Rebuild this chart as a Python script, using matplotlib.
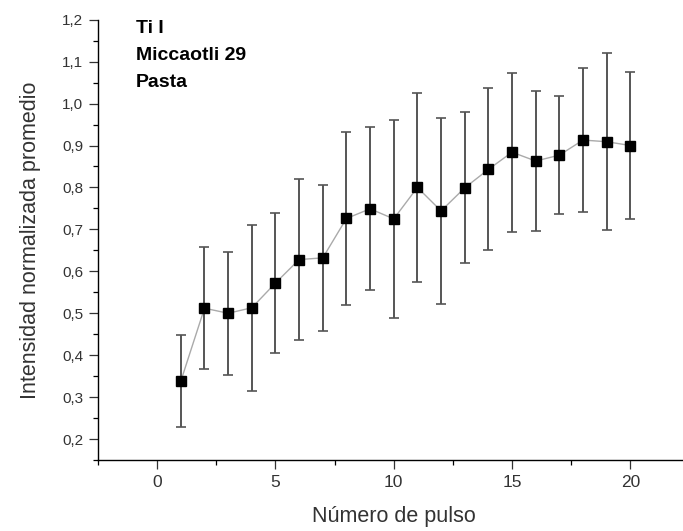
import numpy as np
import matplotlib.pyplot as plt
from matplotlib.ticker import MultipleLocator, FuncFormatter

plt.rcParams['font.family'] = ['Liberation Sans', 'DejaVu Sans']

pulso = np.arange(1, 21)
intensidad = [0.338, 0.512, 0.500, 0.513, 0.572, 0.628, 0.632, 0.726, 0.749, 0.725,
              0.800, 0.744, 0.799, 0.843, 0.884, 0.863, 0.877, 0.913, 0.909, 0.900]
error = [0.110, 0.145, 0.147, 0.198, 0.166, 0.191, 0.175, 0.207, 0.194, 0.236,
         0.225, 0.222, 0.180, 0.193, 0.190, 0.166, 0.140, 0.172, 0.211, 0.176]

fig = plt.figure(figsize=(6.83, 5.31), dpi=100)
ax = fig.add_axes([0.1435, 0.1337, 0.866, 0.8292])

ax.plot(pulso, intensidad, color='#aaaaaa', lw=1, zorder=1)
ax.errorbar(pulso, intensidad, yerr=error, fmt='none', ecolor='#555555',
            elinewidth=1.4, capsize=3.3, capthick=1.2, zorder=2)
ax.plot(pulso, intensidad, 's', color='black', ms=7.4, zorder=3)

ax.set_xlim(-2.5, 22.5)
ax.set_ylim(0.15, 1.2)
ax.xaxis.set_major_locator(MultipleLocator(5))
ax.xaxis.set_minor_locator(MultipleLocator(2.5))
ax.yaxis.set_major_locator(MultipleLocator(0.1))
ax.yaxis.set_minor_locator(MultipleLocator(0.05))
ax.yaxis.set_major_formatter(FuncFormatter(lambda v, p: f'{v:.1f}'.replace('.', ',')))

for s in ['top', 'right']:
    ax.spines[s].set_visible(False)
for s in ['left', 'bottom']:
    ax.spines[s].set_linewidth(1.0)

ax.tick_params(which='major', direction='out', length=6.5, width=0.9, pad=4)
ax.tick_params(which='minor', direction='out', length=3.6, width=0.9)
ax.tick_params(axis='y', labelsize=11, colors='#333333', labelcolor='#333333')
ax.tick_params(axis='x', labelsize=12.5, colors='#333333', labelcolor='#333333')

ax.set_xlabel('Número de pulso', fontsize=15.5, color='#333333', labelpad=12)
ax.set_ylabel('Intensidad normalizada promedio', fontsize=15.5, color='#333333', labelpad=15)

fig.text(136 / 683, 1 - 33 / 531, 'Ti I', fontsize=14, fontweight='bold', va='baseline')
fig.text(136 / 683, 1 - 60 / 531, 'Miccaotli 29', fontsize=14, fontweight='bold', va='baseline')
fig.text(136 / 683, 1 - 87 / 531, 'Pasta', fontsize=14, fontweight='bold', va='baseline')

fig.savefig('out.png', dpi=100)
